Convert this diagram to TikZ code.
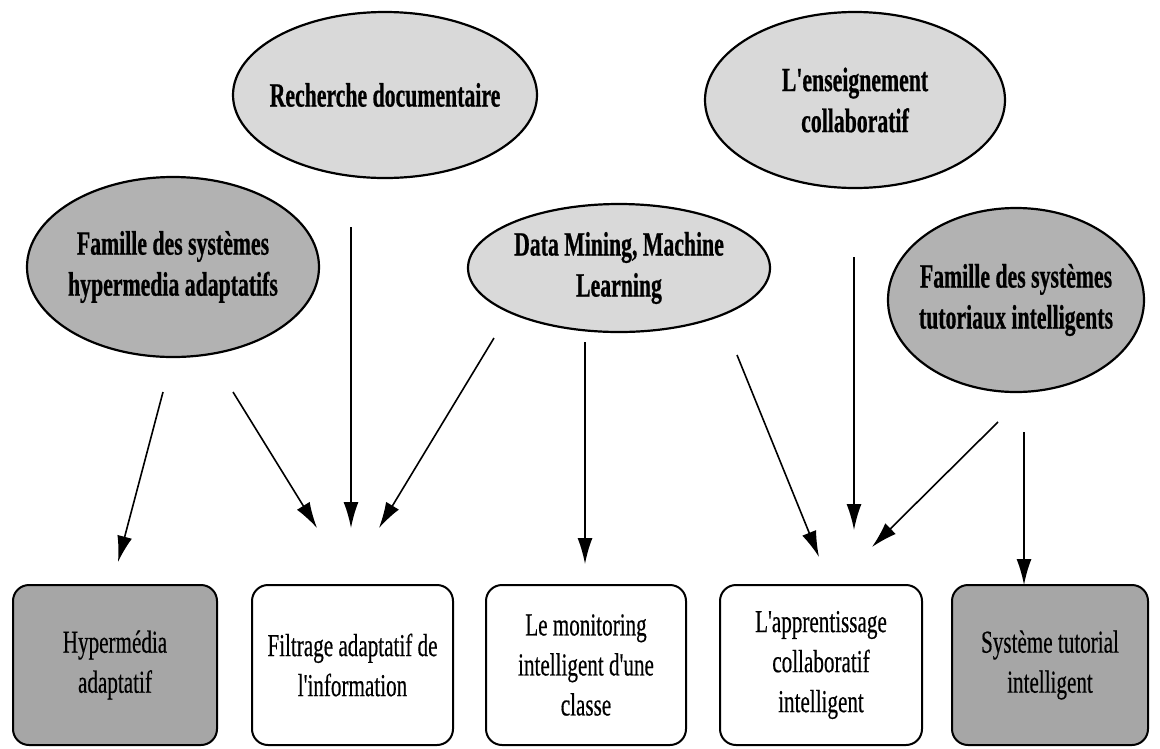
\documentclass[tikz,border=0pt]{standalone}
\usepackage{fontspec}
\setmainfont{Liberation Serif}
\newfontfamily\headfont[FakeStretch=0.64,FakeBold=0.6]{Liberation Serif Bold}
\newfontfamily\bodyfont[FakeStretch=0.66,FakeBold=0.4]{Liberation Serif}
\usetikzlibrary{arrows.meta,shapes.geometric}

\tikzset{
  oval/.style={ellipse, draw, line width=2.2pt, inner sep=0pt},
  ovaltext/.style={align=center, font=\headfont\fontsize{34}{41}\selectfont},
  light/.style={fill=black!15},
  dark/.style={fill=black!30},
  card/.style={draw, rounded corners=16pt, line width=2pt, inner sep=0pt,
    minimum height=160pt, align=center, font=\bodyfont\fontsize{32}{40}\selectfont},
  darkcard/.style={card, fill=black!35},
  link/.style={-{Latex[length=26pt,width=15pt]}, line width=1.6pt},
}

\begin{document}
\begin{tikzpicture}[x=1pt,y=-1pt]
\useasboundingbox (0,0) rectangle (1160,748);

% sources (ovals)
\node[oval, light, minimum width=304pt, minimum height=166pt,
  label={[ovaltext]center:Recherche documentaire}] (rd) at (385,95) {};
\node[oval, light, minimum width=300pt, minimum height=176pt,
  label={[ovaltext]center:L'enseignement\\collaboratif}] (ec) at (855,100) {};
\node[oval, dark, minimum width=292pt, minimum height=180pt,
  label={[ovaltext]center:Famille des systèmes\\hypermedia adaptatifs}] (fh) at (173,267) {};
\node[oval, light, minimum width=302pt, minimum height=128pt,
  label={[ovaltext]center:Data Mining, Machine\\Learning}] (dm) at (619,268) {};
\node[oval, dark, minimum width=256pt, minimum height=184pt,
  label={[ovaltext]center:Famille des systèmes\\tutoriaux intelligents}] (ft) at (1016,300) {};

% results (boxes)
\node[darkcard, minimum width=204pt] (ha) at (115,665) {Hypermédia\\adaptatif};
\node[card, minimum width=201pt] (fi) at (352.5,665) {Filtrage adaptatif de\\l'information};
\node[card, minimum width=200pt] (mi) at (586,665) {Le monitoring\\intelligent d'une\\classe};
\node[card, minimum width=202pt] (ac) at (821,665) {L'apprentissage\\collaboratif\\intelligent};
\node[darkcard, minimum width=196pt] (st) at (1050,665) {Système tutorial\\intelligent};

% free ends of the links
\coordinate (fh-a) at (163,392);  \coordinate (ha-in) at (118,562);
\coordinate (fh-b) at (233,392);  \coordinate (fi-a) at (317,528);
\coordinate (rd-a) at (351,227);  \coordinate (fi-b) at (351,528);
\coordinate (dm-a) at (494,338);  \coordinate (fi-c) at (379,528);
\coordinate (dm-b) at (585,342);  \coordinate (mi-in) at (585,564);
\coordinate (dm-c) at (737,355);  \coordinate (ac-a) at (819,557);
\coordinate (ec-a) at (854,257);  \coordinate (ac-b) at (854,530);
\coordinate (ft-a) at (998,422);  \coordinate (ac-c) at (872,547);
\coordinate (ft-b) at (1024,432); \coordinate (st-in) at (1024,585);

\draw[link] (fh-a) -- (ha-in);
\draw[link] (fh-b) -- (fi-a);
\draw[link] (rd-a) -- (fi-b);
\draw[link] (dm-a) -- (fi-c);
\draw[link] (dm-b) -- (mi-in);
\draw[link] (dm-c) -- (ac-a);
\draw[link] (ec-a) -- (ac-b);
\draw[link] (ft-a) -- (ac-c);
\draw[link] (ft-b) -- (st-in);
\end{tikzpicture}
\end{document}
